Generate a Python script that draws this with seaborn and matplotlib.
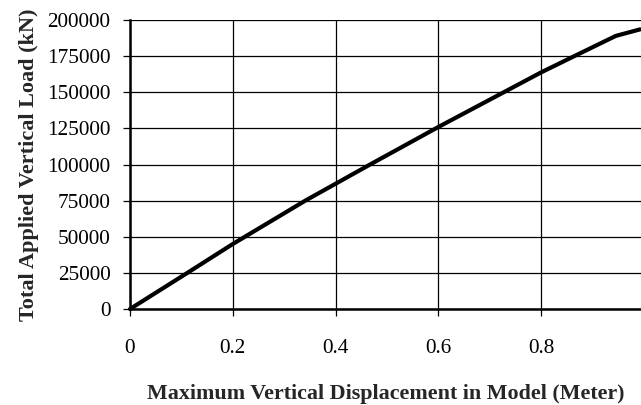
# === IMPORTS ===
import numpy as np
import pandas as pd
import matplotlib
matplotlib.use("Agg")
import matplotlib.pyplot as plt
import seaborn as sns

# === DATA ===
displacement = [0.0, 0.108, 0.2, 0.341, 0.467, 0.6, 0.727, 0.8, 0.87, 0.945, 0.992]
load = [0, 24200, 45000, 75000, 100000, 126000, 150000, 163800, 176000, 189000, 193500]
x_ticks = [0, 0.2, 0.4, 0.6, 0.8]
x_tick_labels = ["0", "0.2", "0.4", "0.6", "0.8"]
y_ticks = [0, 25000, 50000, 75000, 100000, 125000, 150000, 175000, 200000]

df = pd.DataFrame({"Displacement": displacement, "Load": load})

# === SETTINGS ===
sns.set_style("white")
plt.rcParams["font.family"] = ["Liberation Serif", "DejaVu Serif"]

fig = plt.figure(figsize=(6.41, 4.05), dpi=100)
ax = fig.add_axes([0.2028, 0.237, 0.7972, 0.7136])

# Grid drawn behind the curve
ax.set_axisbelow(True)
ax.grid(True, color="black", linewidth=0.9)

sns.lineplot(data=df, x="Displacement", y="Load", ax=ax,
             color="black", linewidth=3.0, sort=False, clip_on=False)

ax.set_xlim(0, 0.994)
ax.set_ylim(0, 200000)
ax.set_xticks(x_ticks)
ax.set_xticklabels(x_tick_labels)
ax.set_yticks(y_ticks)
ax.set_yticklabels([str(v) for v in y_ticks])

ax.tick_params(axis="both", direction="out", length=5, width=0.9,
               colors="black", labelsize=15.3, bottom=True, left=True)
ax.tick_params(axis="x", pad=16.5)
ax.tick_params(axis="y", pad=9)

for side in ["top", "right"]:
    ax.spines[side].set_visible(False)
for side in ["left", "bottom"]:
    ax.spines[side].set_color("black")
    ax.spines[side].set_linewidth(1.8)

ax.set_xlabel("Maximum Vertical Displacement in Model (Meter)",
              fontsize=15.8, fontweight="bold", labelpad=19)
ax.set_ylabel("Total Applied Vertical Load (kN)",
              fontsize=16, fontweight="bold", labelpad=6)

plt.savefig("out.png", dpi=100)
plt.close()
